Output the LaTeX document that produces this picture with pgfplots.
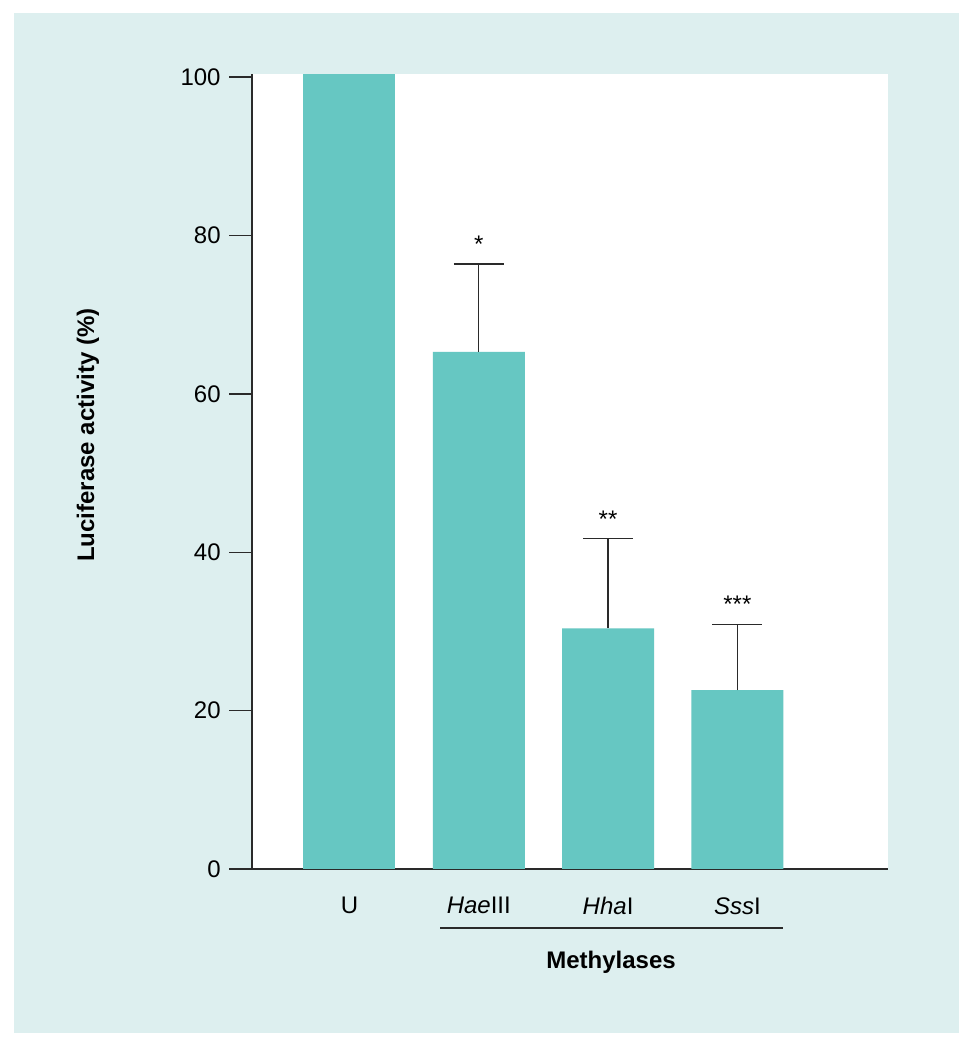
\documentclass[border=0pt]{standalone}
\usepackage{fontspec}
\setmainfont{Liberation Sans}
\usepackage{pgfplots}
\pgfplotsset{compat=1.18}

\definecolor{panel}{HTML}{DDEFEF}
\definecolor{barteal}{HTML}{66C7C2}
\definecolor{axisgray}{HTML}{2A2A2A}

\begin{document}
\fontsize{12}{14.4}\selectfont
\begin{tikzpicture}[x=0.5pt, y=0.5pt]
% page and panel, in pixel units of the reference (y measured from the bottom)
\path[use as bounding box] (0,0) rectangle (969,1050);
\fill[white] (0,0) rectangle (969,1050);
\fill[panel] (14,17) rectangle (959,1037);

\begin{axis}[
    at={(126pt,90.5pt)}, anchor=south west,
    scale only axis,
    width=318pt, height=397.5pt,
    xmin=-0.754, xmax=4.165,
    ymin=0, ymax=100.4,
    axis background/.style={fill=white},
    axis x line*=bottom, axis y line*=left,
    axis line style={-, axisgray, line width=0.75pt},
    tick align=outside,
    major tick length=11.5pt,
    ytick={0,20,40,60,80,100},
    ytick style={axisgray, line width=0.75pt},
    xtick={0,1,2,3},
    xtick style={draw=none},
    xticklabels={U, \textit{Hae}III, \textit{Hha}I, \textit{Sss}I},
    xticklabel style={yshift=1.5pt},
    /pgf/number format/assume math mode=true,
    clip=false,
]
% untreated control, no error bar
\addplot[ybar, bar width=46pt, fill=barteal, draw=none]
    coordinates {(0,100.4)};
\addplot[ybar, bar width=46pt, fill=barteal, draw=none,
    error bars/.cd, y dir=plus, y explicit,
    error bar style={axisgray, line width=0.7pt},
    error mark options={axisgray, line width=0.7pt, mark size=12.5pt, rotate=90}]
    coordinates {
    (1,65.3) +- (0,11.1)
    (2,30.4) +- (0,11.3)
    (3,22.6) +- (0,8.3)
    };
% significance stars above the error bars
\addplot[only marks, mark=none,
    nodes near coords, point meta=explicit symbolic,
    every node near coord/.style={anchor=south, yshift=1.5pt}]
    coordinates {
    (1,76.4) [*]
    (2,41.7) [**]
    (3,30.9) [***]
    };
\end{axis}

\node[rotate=90, font=\bfseries] at (88,615) {Luciferase activity (\%)};
\draw[axisgray, line width=0.7pt] (440,122) -- (783,122);
\node[font=\bfseries] at (611,88) {Methylases};
\end{tikzpicture}
\end{document}
